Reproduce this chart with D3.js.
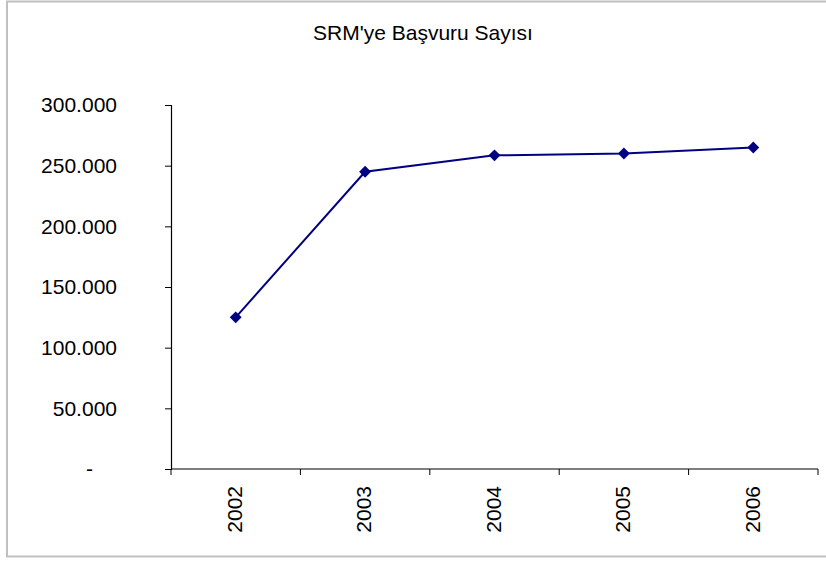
<!DOCTYPE html>
<html>
<head>
<meta charset="utf-8">
<script src="https://cdn.jsdelivr.net/npm/d3@7"></script>
<style>
  body { margin: 0; background: #fff; }
  svg { display: block; }
  text { font-family: "Liberation Sans", Arial, sans-serif; fill: #000; }
</style>
</head>
<body>
<svg id="chart" width="826" height="561"></svg>
<script>
// chart data
const years = ["2002", "2003", "2004", "2005", "2006"];
const applications = [125000, 245000, 258500, 260000, 265000];
const yTicks = [0, 50000, 100000, 150000, 200000, 250000, 300000];
const chartTitle = "SRM'ye Başvuru Sayısı";

const svg = d3.select("#chart");
const margin = { left: 171, right: 8, top: 105, bottom: 92 };
const width = 826, height = 561;

// outer frame
svg.append("rect")
    .attr("x", 7).attr("y", 1.5)
    .attr("width", 830).attr("height", 555)
    .attr("fill", "none")
    .attr("stroke", "#c0c0c0")
    .attr("stroke-width", 2);

const x = d3.scaleBand()
    .domain(years)
    .range([margin.left, width - margin.right]);

const y = d3.scaleLinear()
    .domain([0, 300000])
    .range([height - margin.bottom, margin.top]);

const fmt = v => v === 0 ? "-" : d3.format(",")(v).replace(/,/g, ".");

// y axis
const yAxis = svg.append("g")
    .attr("transform", `translate(${margin.left},0)`)
    .call(d3.axisLeft(y).tickValues(yTicks).tickSize(6).tickPadding(48).tickFormat(fmt));
yAxis.selectAll("text").attr("font-size", 21).attr("text-anchor", "end");
yAxis.select(".domain").attr("stroke", "#000").attr("stroke-width", 1.2);
yAxis.selectAll("line").attr("stroke", "#000");
yAxis.selectAll(".tick")
    .filter(d => d === 0)
    .select("text")
    .attr("dx", -24);

// x axis with ticks between categories
const xAxisG = svg.append("g")
    .attr("transform", `translate(0,${height - margin.bottom})`);
xAxisG.append("line")
    .attr("x1", margin.left).attr("x2", width - margin.right)
    .attr("stroke", "#000").attr("stroke-width", 1.2);
const bounds = years.map(d => x(d)).concat([x(years[years.length - 1]) + x.bandwidth()]);
xAxisG.selectAll("line.tk")
    .data(bounds)
    .join("line")
    .attr("class", "tk")
    .attr("x1", d => d).attr("x2", d => d)
    .attr("y1", 0).attr("y2", 6)
    .attr("stroke", "#000");
xAxisG.selectAll("text")
    .data(years)
    .join("text")
    .attr("transform", d => `translate(${x(d) + x.bandwidth() / 2 - 1},17) rotate(-90)`)
    .attr("text-anchor", "end")
    .attr("dy", "0.35em")
    .attr("font-size", 21)
    .text(d => d);

// line
const pts = years.map((d, i) => [x(d) + x.bandwidth() / 2, y(applications[i])]);
svg.append("path")
    .datum(pts)
    .attr("d", d3.line())
    .attr("fill", "none")
    .attr("stroke", "#000080")
    .attr("stroke-width", 2);

svg.selectAll("path.mk")
    .data(pts)
    .join("path")
    .attr("class", "mk")
    .attr("transform", d => `translate(${d[0]},${d[1]})`)
    .attr("d", d3.symbol(d3.symbolDiamond2, 90))
    .attr("fill", "#000080");

// title
svg.append("text")
    .attr("x", 423).attr("y", 40)
    .attr("text-anchor", "middle")
    .attr("font-size", 21)
    .text(chartTitle);
</script>
</body>
</html>
